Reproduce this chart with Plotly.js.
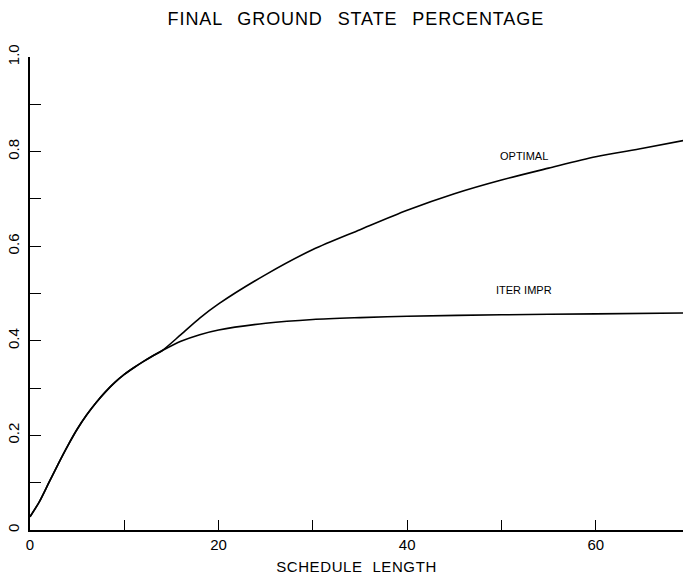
<!DOCTYPE html>
<html>
<head>
<meta charset="utf-8">
<script src="https://cdn.plot.ly/plotly-3.0.1.min.js"></script>
<style>
  html, body { margin: 0; padding: 0; background: #fff; }
  #chart { width: 683px; height: 578px; }
  .gtitle { letter-spacing: 0.9px; word-spacing: 9px; }
  .xtitle { letter-spacing: 0.6px; word-spacing: 5px; }
</style>
</head>
<body>
<div id="chart"></div>
<script>
// Shared start of both curves (schedule lengths 0..14)
const commonLen = [0, 1, 2, 3, 4, 5, 6, 7, 8, 9, 10, 11, 12, 13, 14];
const commonVal = [0.028, 0.060, 0.100, 0.140, 0.178, 0.213, 0.243, 0.269, 0.292, 0.312, 0.329, 0.343, 0.356, 0.368, 0.379];

// Branches after the split
const optimalLen = [16, 18, 20, 25, 30, 35, 40, 45, 50, 55, 60, 65, 70];
const optimalVal = [0.413, 0.448, 0.478, 0.540, 0.593, 0.635, 0.676, 0.711, 0.740, 0.765, 0.789, 0.807, 0.826];

const iterLen = [16, 18, 20, 25, 30, 35, 40, 50, 60, 70];
const iterVal = [0.399, 0.413, 0.423, 0.437, 0.445, 0.449, 0.452, 0.455, 0.457, 0.459];

const xTickVals = [0, 20, 40, 60];
const xTickText = ['0', '20', '40', '60'];
const yTickVals = [0, 0.2, 0.4, 0.6, 0.8, 1.0];
const yTickText = ['0', '0.2', '0.4', '0.6', '0.8', '1.0'];

const curveLabels = [
  { text: 'OPTIMAL', x: 52.4, y: 0.79 },
  { text: 'ITER IMPR', x: 52.4, y: 0.508 }
];

const lineStyle = { color: '#000', width: 1.6, shape: 'spline', smoothing: 0.8 };

const traces = [
  {
    x: commonLen.concat(optimalLen),
    y: commonVal.concat(optimalVal),
    mode: 'lines', line: lineStyle, hoverinfo: 'skip'
  },
  {
    x: commonLen.concat(iterLen),
    y: commonVal.concat(iterVal),
    mode: 'lines', line: lineStyle, hoverinfo: 'skip'
  }
];

const tickFont = { family: 'Liberation Sans, Arial, sans-serif', size: 15, color: '#000' };

const layout = {
  width: 683, height: 578,
  margin: { l: 30, r: 0, t: 57, b: 48 },
  paper_bgcolor: '#fff', plot_bgcolor: '#fff',
  showlegend: false,
  title: {
    text: 'FINAL GROUND STATE PERCENTAGE',
    font: { family: 'Liberation Sans, Arial, sans-serif', size: 18, color: '#000' },
    xref: 'container', x: 0.521, xanchor: 'center',
    yref: 'container', y: 1 - 19 / 578, yanchor: 'middle'
  },
  xaxis: {
    range: [0, 69.25],
    showgrid: false, zeroline: false,
    showline: true, linecolor: '#000', linewidth: 1.6,
    ticks: 'inside', ticklen: 10, tickwidth: 1, tickcolor: '#000',
    tickvals: xTickVals, ticktext: xTickText,
    minor: { dtick: 10, tick0: 0, ticks: 'inside', ticklen: 10, tickwidth: 1, tickcolor: '#000', showgrid: false },
    tickfont: tickFont,
    title: {
      text: 'SCHEDULE LENGTH',
      font: { family: 'Liberation Sans, Arial, sans-serif', size: 15, color: '#000' },
      standoff: 10
    }
  },
  yaxis: {
    range: [0, 1.0],
    showgrid: false, zeroline: false,
    showline: true, linecolor: '#000', linewidth: 1.6,
    ticks: 'inside', ticklen: 11, tickwidth: 1, tickcolor: '#000',
    tickvals: yTickVals, ticktext: yTickText,
    minor: { dtick: 0.1, tick0: 0, ticks: 'inside', ticklen: 11, tickwidth: 1, tickcolor: '#000', showgrid: false },
    tickangle: -90,
    ticklabelstandoff: 3,
    tickfont: tickFont
  },
  annotations: curveLabels.map(l => ({
    text: l.text, x: l.x, y: l.y, xref: 'x', yref: 'y',
    showarrow: false, xanchor: 'center', yanchor: 'middle',
    font: { family: 'Liberation Sans, Arial, sans-serif', size: 11, color: '#000' }
  }))
};

Plotly.newPlot('chart', traces, layout, { staticPlot: true, displayModeBar: false });
</script>
</body>
</html>
